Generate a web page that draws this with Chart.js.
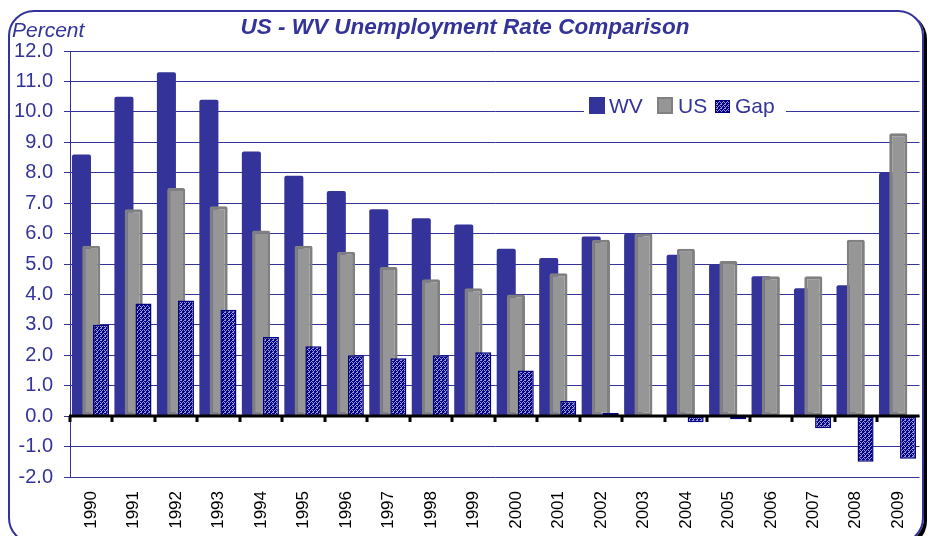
<!DOCTYPE html>
<html>
<head>
<meta charset="utf-8">
<script src="https://cdn.jsdelivr.net/npm/chart.js@4"></script>
<style>
  body { margin: 0; background: #fff; }
  #wrap { position: relative; width: 933px; height: 536px; overflow: hidden; }
  #frame {
    position: absolute; left: 8px; top: 10px; width: 912px; height: 530px;
    border: 2px solid #333399; border-radius: 26px;
    box-shadow: 3px 3px 0 #000;
  }
  #c { position: absolute; left: 0; top: 0; }
</style>
</head>
<body>
<div id="wrap">
  <div id="frame"></div>
  <canvas id="c" width="933" height="536"></canvas>
</div>
<script>
const years = ['1990', '1991', '1992', '1993', '1994', '1995', '1996', '1997', '1998', '1999',
  '2000', '2001', '2002', '2003', '2004', '2005', '2006', '2007', '2008', '2009'];
const wvRate = [8.6, 10.5, 11.3, 10.4, 8.7, 7.9, 7.4, 6.8, 6.5, 6.3, 5.5, 5.2, 5.9, 6.0, 5.3, 5.0, 4.6, 4.2, 4.3, 8.0];
const usRate = [5.6, 6.8, 7.5, 6.9, 6.1, 5.6, 5.4, 4.9, 4.5, 4.2, 4.0, 4.7, 5.8, 6.0, 5.5, 5.1, 4.6, 4.6, 5.8, 9.3];
const gapRate = [3.0, 3.7, 3.8, 3.5, 2.6, 2.3, 2.0, 1.9, 2.0, 2.1, 1.5, 0.5, 0.1, 0.0, -0.2, -0.1, 0.0, -0.4, -1.5, -1.4];

const FONT = "'Liberation Sans', Arial, sans-serif";
const NAVY = '#333399';

// small navy/light texture for the Gap bars
function wavePattern() {
  const c = document.createElement('canvas');
  c.width = 4; c.height = 4;
  const g = c.getContext('2d');
  g.fillStyle = '#000080';
  g.fillRect(0, 0, 4, 4);
  g.fillStyle = '#9a9ad8';
  [[0, 0], [1, 0], [3, 1], [0, 2], [2, 2], [1, 3]].forEach(p => g.fillRect(p[0], p[1], 1, 1));
  return g.createPattern(c, 'repeat');
}
const gapFill = wavePattern();

// bars overlap like Excel: WV underneath, Gap on top; then the black zero axis
const overlapBars = {
  id: 'overlapBars',
  beforeDatasetsDraw(chart) {
    for (let i = 0; i < chart.data.datasets.length; i++) {
      chart.getDatasetMeta(i).controller.draw();
    }
    const { ctx, chartArea: a, scales: { y } } = chart;
    const y0 = Math.round(y.getPixelForValue(0));
    const step = (a.right - a.left) / years.length;
    ctx.save();
    ctx.strokeStyle = '#000';
    ctx.lineWidth = 3;
    ctx.beginPath();
    ctx.moveTo(a.left - 1, y0);
    ctx.lineTo(a.right, y0);
    for (let k = 0; k < years.length; k++) {
      const xx = Math.round(a.left + k * step);
      ctx.moveTo(xx, y0);
      ctx.lineTo(xx, y0 + 6);
    }
    ctx.stroke();
    ctx.restore();
    return false;
  },
  afterDraw(chart) {
    const ctx = chart.ctx;
    ctx.save();
    ctx.fillStyle = NAVY;
    ctx.textBaseline = 'alphabetic';
    ctx.textAlign = 'center';
    ctx.font = 'italic bold 22.5px ' + FONT;
    ctx.fillText('US - WV Unemployment Rate Comparison', 465, 34);
    ctx.textAlign = 'left';
    ctx.font = 'italic 21px ' + FONT;
    ctx.fillText('Percent', 12, 37);

    // legend box
    ctx.fillStyle = '#fff';
    ctx.fillRect(584, 95, 202, 24);
    ctx.fillStyle = NAVY;
    ctx.fillRect(589, 97, 16, 17);
    ctx.fillStyle = '#969696';
    ctx.fillRect(657, 97, 16, 17);
    ctx.strokeStyle = '#808080';
    ctx.lineWidth = 2;
    ctx.strokeRect(658, 98, 14, 15);
    ctx.fillStyle = gapFill;
    ctx.fillRect(715, 100, 15, 13);
    ctx.strokeStyle = '#000080';
    ctx.lineWidth = 1;
    ctx.strokeRect(715.5, 100.5, 14, 12);
    ctx.fillStyle = NAVY;
    ctx.font = '21px ' + FONT;
    ctx.fillText('WV', 609, 113);
    ctx.fillText('US', 678, 113);
    ctx.fillText('Gap', 735, 113);
    ctx.restore();
  }
};

new Chart(document.getElementById('c'), {
  type: 'bar',
  data: {
    labels: years,
    datasets: [
      { label: 'WV', data: wvRate, backgroundColor: NAVY, borderWidth: 0, borderRadius: 2, borderSkipped: false,
        barPercentage: 1.95, categoryPercentage: 0.69 },
      { label: 'US', data: usRate, backgroundColor: '#969696', borderColor: '#808080', borderWidth: 3, borderRadius: 2,
        borderSkipped: false, barPercentage: 1.85, categoryPercentage: 0.69 },
      { label: 'Gap', data: gapRate, backgroundColor: gapFill, borderColor: '#000080', borderWidth: 1.5,
        borderSkipped: false, barPercentage: 1.64, categoryPercentage: 0.69 }
    ]
  },
  options: {
    responsive: false,
    animation: false,
    layout: { padding: { left: 0, right: 13, top: 51, bottom: 0 } },
    plugins: {
      legend: { display: false },
      title: { display: false },
      tooltip: { enabled: false }
    },
    scales: {
      x: {
        grid: { display: false, drawTicks: false },
        border: { display: false },
        ticks: { color: '#000', font: { family: FONT, size: 17 }, minRotation: 90, maxRotation: 90, padding: 14 },
        afterFit(scale) { scale.height = 59; }
      },
      y: {
        min: -2,
        max: 12,
        ticks: { stepSize: 1, color: NAVY, padding: 11, font: { family: FONT, size: 20 },
          callback: v => v.toFixed(1) },
        grid: { color: NAVY, lineWidth: 1, tickLength: 6, tickColor: NAVY },
        border: { color: NAVY, width: 1 },
        afterFit(scale) { scale.width = 70; }
      }
    }
  },
  plugins: [overlapBars]
});
</script>
</body>
</html>
